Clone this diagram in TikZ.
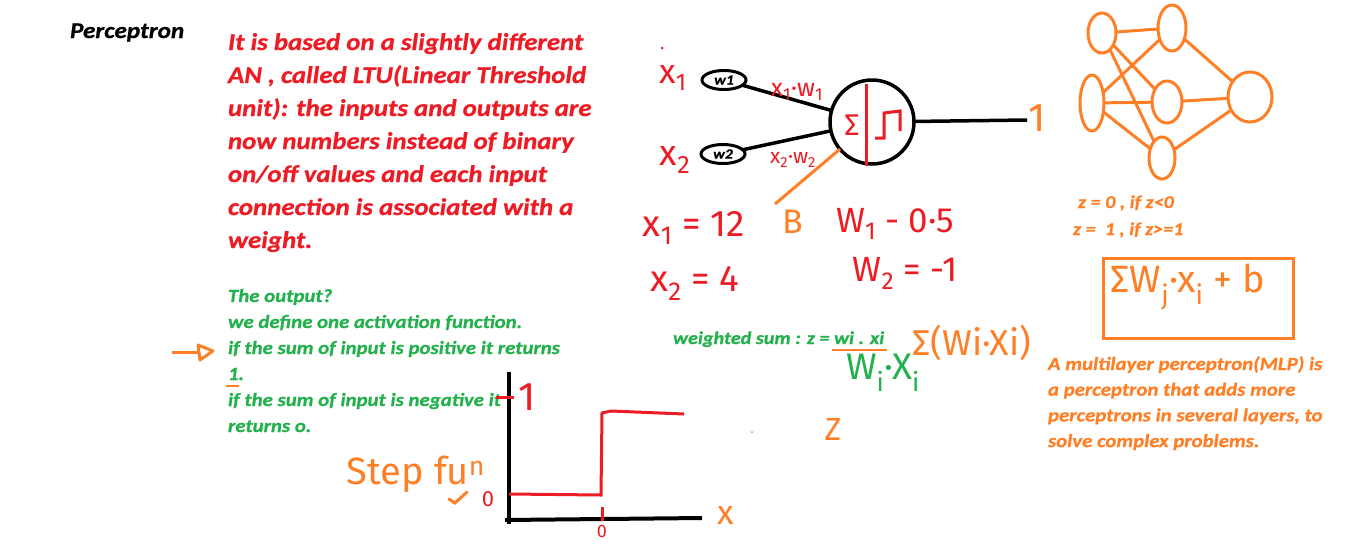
\documentclass[tikz,border=0pt]{standalone}
\usepackage{fontspec}
\usetikzlibrary{shapes.geometric}
\setmainfont{Carlito}[FakeStretch=1.12, BoldItalicFeatures={FakeBold=0.8}]
\newfontfamily\hand{Fira Sans}
\definecolor{pred}{HTML}{ED1C24}
\definecolor{porange}{HTML}{FF7F27}
\definecolor{pgreen}{HTML}{22B14C}
\begin{document}
\begin{tikzpicture}[x=1pt,y=-1pt,
  every node/.style={inner sep=0pt, outer sep=0pt},
  typed/.style={anchor=base west, font=\bfseries\itshape\fontsize{#1}{#1}\selectfont},
  handtxt/.style={font=\hand\fontsize{#1}{#1}\selectfont},
  blackline/.style={draw=black, line width=3.5pt},
  redline/.style={draw=pred, line width=3pt},
  orline/.style={draw=porange, line width=3pt},
  weightnode/.style={ellipse, draw=black, line width=3pt, minimum width=44pt, minimum height=19pt, font=\bfseries\itshape\fontsize{14}{14}\selectfont},
  mlpnode/.style={ellipse, draw=porange, line width=3pt},
]
\useasboundingbox (0,0) rectangle (1355,558);
% ---- typed texts ----
\node[typed=22.5, text=black] (title) at (70,38) {Perceptron};
\foreach \t [count=\i] in {{It is based on a slightly different},{AN , called LTU(Linear Threshold},{unit): the inputs and outputs are},{now numbers instead of binary},{on/off values and each input},{connection is associated with a},{weight.}}
  \node[typed=24, text=pred] (red\i) at (228,{50+33*(\i-1)}) {\t};
\foreach \t [count=\i] in {{The output?},{we define one activation function.},{if the sum of input is positive it returns},{1.},{if the sum of input is negative it},{returns o.}}
  \node[typed=18.6, text=pgreen] (green\i) at (228,{302+26*(\i-1)}) {\t};
\foreach \t [count=\i] in {{A multilayer perceptron(MLP) is},{a perceptron that adds more},{perceptrons in several layers, to},{solve complex problems.}}
  \node[typed=18.6, text=porange] (mlp\i) at (1048,{370+25.7*(\i-1)}) {\t};
\node[typed=18, text=porange] (zeq0) at (1078,208) {z = 0 , if z<0};
\node[typed=18, text=porange] (zeq1) at (1073,235) {z =\ \ 1 , if z>=1};
\node[typed=18, text=pgreen] (wsum) at (673,344) {weighted sum : z = wi . xi};
\draw[porange, line width=2pt] (832,350) -- (887,350);
% arrow mark and underline
\draw[orline] (172,352) -- (198,352);
\draw[orline, line join=round] (198,345) -- (213,351) -- (200,360) -- cycle;
\draw[porange, line width=2.5pt] (226,386) -- (239,386);
% ---- neuron ----
\node[circle, draw=black, line width=3.5pt, minimum size=84pt] (neuron) at (872,122) {};
\node[weightnode] (w1) at (724,80) {w1};
\node[weightnode] (w2) at (723,154) {w2};
\coordinate (oend) at (1027,120);
\coordinate (bstart) at (775,204);
\draw[blackline] (w1) -- (neuron);
\draw[blackline] (w2) -- (neuron);
\draw[blackline] (neuron) -- (oend);
\draw[orline] (bstart) -- (neuron);
\draw[redline] (866,84) -- (866,166);
\draw[redline] (875,138) -- (884,138) -- (884,113) -- (900,111) -- (900,131);
\node[handtxt=30, text=pred] (sig) at (852,125) {Σ};
\fill[pred] (662,48) circle (1.5);
\node[handtxt=34, text=pred] (x1) at (673,78) {x\textsubscript{1}};
\node[handtxt=36, text=pred] (x2) at (675,160) {x\textsubscript{2}};
\node[handtxt=25, text=pred] (x1w1) at (797,92) {x\textsubscript{1}·w\textsubscript{1}};
\node[handtxt=21, text=pred] (x2w2) at (793,160) {x\textsubscript{2}·w\textsubscript{2}};
\node[handtxt=40, text=porange] (out1) at (1037,118) {1};
\node[handtxt=37, text=pred] (x1eq) at (694,228) {x\textsubscript{1} = 12};
\node[handtxt=34, text=porange] (bias) at (793,222) {B};
\node[handtxt=35, text=pred] (w1eq) at (895,224) {W\textsubscript{1} - 0·5};
\node[handtxt=37, text=pred] (x2eq) at (695,283) {x\textsubscript{2} = 4};
\node[handtxt=35, text=pred] (w2eq) at (905,273) {W\textsubscript{2} = -1};
\node[handtxt=37, text=pgreen] (wixi) at (883,373) {W\textsubscript{i}·X\textsubscript{i}};
\node[handtxt=36, text=porange] (sumwx) at (972,343) {Σ(Wi·Xi)};
\node[handtxt=32, text=porange] (zlab) at (833,429) {Z};
\fill[porange] (752,432) circle (1);
% ---- MLP network ----
\node[mlpnode, minimum width=28pt, minimum height=40pt] (n1) at (1102,33) {};
\node[mlpnode, minimum width=28pt, minimum height=46pt] (n2) at (1172,28) {};
\node[mlpnode, minimum width=24pt, minimum height=56pt] (n3) at (1092,103) {};
\node[mlpnode, minimum width=30pt, minimum height=42pt] (n4) at (1167,102) {};
\node[mlpnode, minimum width=26pt, minimum height=42pt] (n5) at (1162,158) {};
\node[mlpnode, minimum width=44pt, minimum height=50pt] (n6) at (1250,97) {};
\foreach \a/\b in {n1/n2,n1/n4,n1/n5,n3/n2,n3/n4,n3/n5,n2/n6,n4/n6,n5/n6}
  \draw[orline] (\a) -- (\b);
% formula box
\draw[orline] (1103,258) rectangle (1293,338);
\node[handtxt=38, text=porange] (formula) at (1188,287) {ΣW\textsubscript{j}·x\textsubscript{i} + b};
% ---- step function graph ----
\coordinate (yax0) at (509,524);
\coordinate (yax1) at (509,372);
\coordinate (xax0) at (505,520);
\coordinate (xax1) at (702,518);
\draw[draw=black, line width=4pt] (yax0) -- (yax1);
\draw[draw=black, line width=4pt] (xax0) -- (xax1);
\draw[redline] (509,494) -- (601,495) -- (602,413) -- (611,411) -- (684,414);
\draw[redline] (496,397) -- (514,397);
\draw[redline] (602,507) -- (602,521);
\node[handtxt=40, text=pred] (g1) at (527,397) {1};
\node[handtxt=22, text=pred] (g0) at (488,499) {0};
\node[handtxt=18, text=pred] (gx0) at (602,531) {0};
\node[handtxt=34, text=porange] (xlab) at (726,516) {x};
\node[handtxt=38, text=porange] (stepf) at (416,474) {Step fu\textsuperscript{n}};
\draw[orline, line cap=round] (449,499) -- (455,503) -- (467,492);
\end{tikzpicture}
\end{document}
